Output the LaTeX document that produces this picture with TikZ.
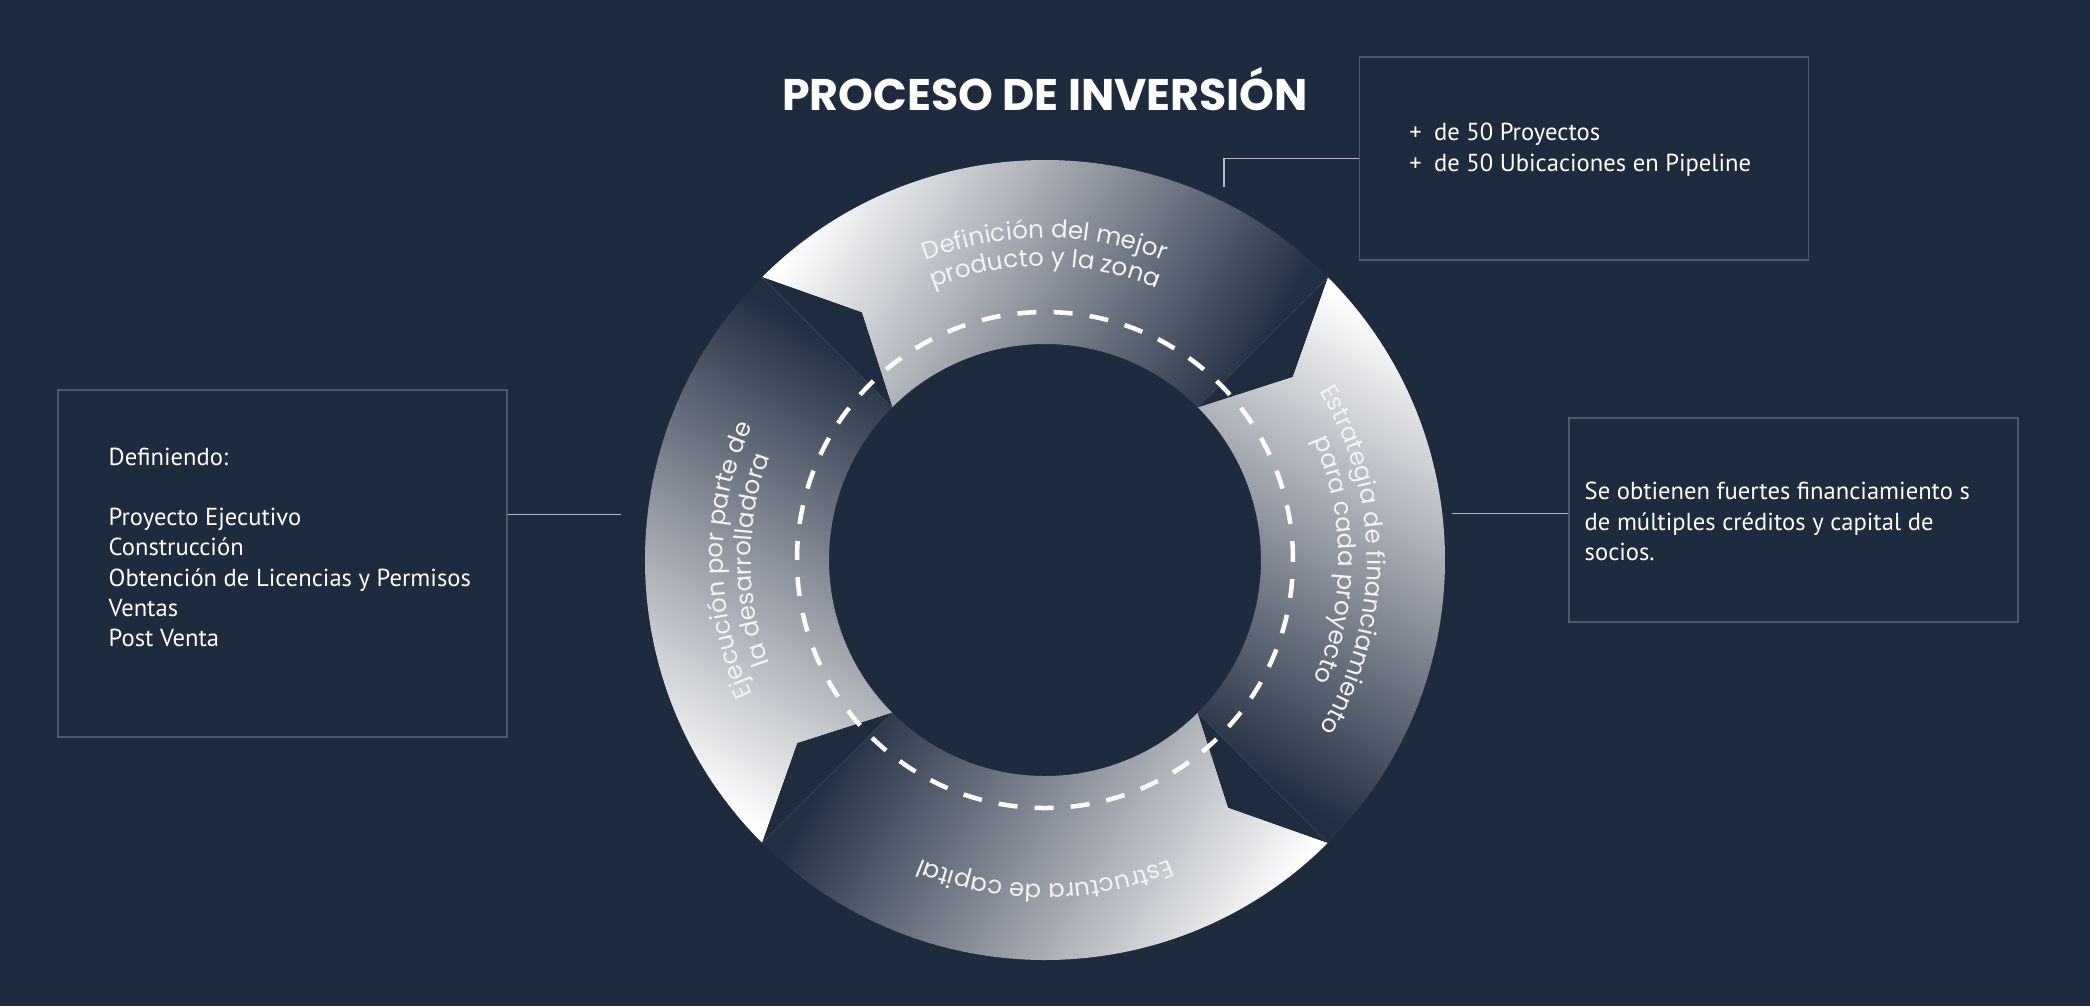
\documentclass[tikz,border=0pt]{standalone}
\usepackage{fontspec}
\usepackage{xcolor}
\usepackage{tikz}
\usetikzlibrary{calc,positioning,decorations.text}
\newfontfamily\ptsans{PT Sans}
\newfontfamily\poppins{Poppins}
\definecolor{bgnavy}{HTML}{1E2A3E}
\definecolor{segdark}{HTML}{232F43}
\definecolor{headnavy}{HTML}{1F2B3F}
\definecolor{seamcol}{HTML}{3A465C}
\definecolor{boxline}{HTML}{4E5A6C}
\definecolor{linkcol}{HTML}{B4BAC4}
\definecolor{arctext}{HTML}{F2F3F5}
\newcommand{\arcfont}{\poppins\fontsize{7}{8}\selectfont}
\newcommand{\boxfont}{\ptsans\fontsize{7}{8.6}\selectfont}

\begin{document}
\begin{tikzpicture}[
    segment/.style={left color=white, right color=segdark},
    head/.style={fill=headnavy},
    seam/.style={draw=seamcol, line width=0.2pt},
    dashring/.style={draw=white, line width=0.45mm, dash pattern=on 1.9mm off 1.72mm},
    infobox/.style={draw=boxline, line width=0.15mm, minimum width=4.49cm, inner sep=0pt},
    boxtext/.style={text=white, font=\boxfont, align=left, anchor=west, inner sep=0pt},
    link/.style={draw=linkcol, line width=0.15mm},
    arclabel/.style={decorate, decoration={text along path, text align=center, text color=arctext, text={|\arcfont|#1}}}
]

% --- Canvas ---
\fill[bgnavy] (-10.45,-4.46) rectangle (10.45,5.60);
\useasboundingbox (-10.45,-4.46) rectangle (10.45,5.60);

% --- Title ---
\node[text=white, font=\poppins\bfseries\fontsize{12.6}{14}\selectfont] (title) at (0,4.71) {PROCESO DE INVERSIÓN};

% --- Ring segments (notch at start, head at end) ---
\coordinate (hub) at (0,0);
\foreach \s/\sh in {135/60, 45/-30, -45/-120, -135/150}{
  \shade[segment, shading angle=\sh] (\s:4) arc[start angle=\s, end angle=\s-90, radius=4]
     -- ({\s-90}:2.16) arc[start angle=\s-90, end angle=\s, radius=2.16]
     -- ({\s-8.5}:3.08) -- cycle;
}
\foreach \s in {135, 45, -45, -135}{
  \fill[head] ({\s-90}:4) -- ({\s-98.5}:3.08) -- ({\s-90}:2.16) -- cycle;
  \draw[seam] ({\s-90}:4) -- ({\s-90}:2.16);
}

% dashed track
\draw[dashring] (hub) circle[radius=2.48];

% --- Labels on the ring ---
\path[arclabel={Definición del mejor}] (145:3.22) arc[start angle=145, end angle=35, radius=3.22];
\path[arclabel={producto y la zona}] (145:2.94) arc[start angle=145, end angle=35, radius=2.94];
\path[arclabel={Estrategia de financiamiento}] (55:3.22) arc[start angle=55, end angle=-55, radius=3.22];
\path[arclabel={para cada proyecto}] (55:2.94) arc[start angle=55, end angle=-55, radius=2.94];
\path[arclabel={Estructura de capital}] (-35:3.24) arc[start angle=-35, end angle=-145, radius=3.24];
\path[arclabel={Ejecución por parte de}] (235:3.22) arc[start angle=235, end angle=125, radius=3.22];
\path[arclabel={la desarrolladora}] (235:2.94) arc[start angle=235, end angle=125, radius=2.94];

% --- Side boxes ---
\node[infobox, minimum height=2.03cm, anchor=north west] (pipebox) at (3.137,5.04) {};
\node[infobox, minimum height=3.47cm, anchor=north west] (devbox) at (-9.877,1.707) {};
\node[infobox, minimum height=2.04cm, anchor=north west] (finbox) at (5.23,1.427) {};

\node[boxtext] (pipetext) at ($(pipebox.west)+(0.50,0.085)$) {+\enspace de 50 Proyectos\\+\enspace de 50 Ubicaciones en Pipeline};
\node[boxtext] (devtext) at ($(devbox.west)+(0.507,0.163)$) {Definiendo:\\[8.6pt]Proyecto Ejecutivo\\Construcción\\Obtención de Licencias y Permisos\\Ventas\\Post Venta};
\node[boxtext] (fintext) at ($(finbox.west)+(0.16,-0.014)$) {Se obtienen fuertes financiamiento s\\de múltiples créditos y capital de\\socios.};

% --- Leader lines ---
\coordinate (devtip) at (-4.237,0.453);
\coordinate (fintip) at (4.07,0.467);
\coordinate (deftip) at (1.79,3.733);
\draw[link] (devbox.east |- devtip) -- (devtip);
\draw[link] (fintip) -- (finbox.west |- fintip);
\draw[link] (pipebox.west) -| (deftip);
\end{tikzpicture}
\end{document}
